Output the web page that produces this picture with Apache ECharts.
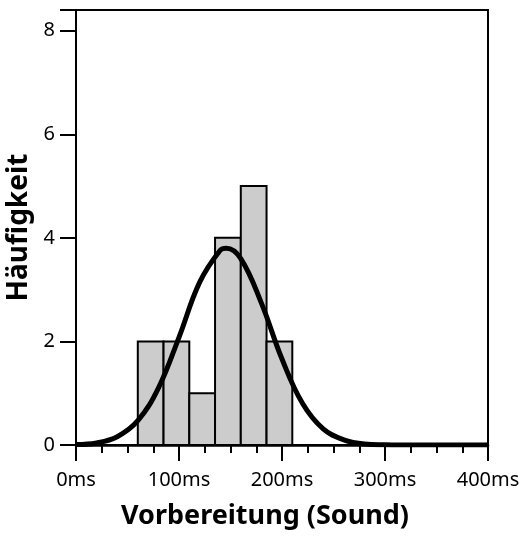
<!DOCTYPE html>
<html>
<head>
<meta charset="utf-8">
<script src="https://cdn.jsdelivr.net/npm/echarts@6/dist/echarts.min.js"></script>
<style>html,body{margin:0;padding:0;background:#fff}#c{width:522px;height:537px}</style>
</head>
<body>
<div id="c"></div>
<script>
// Histogram bins (ms) and counts
var binStart = [60, 85, 110, 135, 160, 185];
var binEnd   = [85, 110, 135, 160, 185, 210];
var counts   = [2, 2, 1, 4, 5, 2];
// Fitted normal curve
var curveX = [0, 20, 40, 60, 80, 100, 120, 140, 146, 160, 180, 200, 220, 240, 260, 280, 300, 320, 350, 400];
var curveY = [0.01, 0.04, 0.16, 0.47, 1.1, 2.08, 3.14, 3.76, 3.8, 3.6, 2.74, 1.66, 0.8, 0.31, 0.1, 0.02, 0.005, 0.001, 0, 0];
var xTicks = [0, 100, 200, 300, 400];
var yTicks = [0, 2, 4, 6, 8];

var chart = echarts.init(document.getElementById('c'), null, {renderer: 'canvas'});
var font = 'Noto Sans';
var option = {
  animation: false,
  grid: {left: 76, right: 34, top: 10, bottom: 92, outerBoundsMode: 'none', containLabel: false,
    show: true, borderColor: '#000', borderWidth: 2, backgroundColor: 'transparent'},
  xAxis: {
    type: 'value', min: xTicks[0], max: xTicks[xTicks.length - 1], interval: 100,
    name: 'Vorbereitung (Sound)', nameLocation: 'middle', nameGap: 58,
    nameTextStyle: {fontFamily: font, fontWeight: 'bold', fontSize: 27, color: '#000', padding: [0, 34, 0, 0]},
    axisLine: {show: true, lineStyle: {color: '#000', width: 2.5}},
    axisTick: {show: true, length: 16, lineStyle: {color: '#000', width: 2}},
    minorTick: {show: true, splitNumber: 4, length: 8, lineStyle: {color: '#000', width: 2}},
    splitLine: {show: false},
    axisLabel: {fontFamily: font, fontSize: 20, color: '#000', margin: 25, formatter: function (v) { return v + 'ms'; }}
  },
  yAxis: {
    type: 'value', min: 0, max: 8.4, interval: 2,
    name: 'Häufigkeit', nameLocation: 'middle', nameGap: 39,
    nameTextStyle: {fontFamily: font, fontWeight: 'bold', fontSize: 28, color: '#000'},
    axisLine: {show: true, lineStyle: {color: '#000', width: 2}},
    axisTick: {show: true, length: 16, lineStyle: {color: '#000', width: 2}},
    splitLine: {show: false},
    axisLabel: {fontFamily: font, fontSize: 20, color: '#000', margin: 21,
      formatter: function (v) { return yTicks.indexOf(v) >= 0 ? String(v) : ''; }}
  },
  series: [
    {
      type: 'custom',
      data: counts.map(function (c, i) { return [binStart[i], binEnd[i], c]; }),
      encode: {x: [0, 1], y: 2},
      renderItem: function (params, api) {
        var p0 = api.coord([api.value(0), api.value(2)]);
        var p1 = api.coord([api.value(1), 0]);
        return {
          type: 'rect',
          shape: {x: p0[0], y: p0[1], width: p1[0] - p0[0], height: p1[1] - p0[1]},
          style: {fill: '#cccccc', stroke: '#000', lineWidth: 2}
        };
      },
      z: 2
    },
    {
      type: 'line',
      data: curveX.map(function (x, i) { return [x, curveY[i]]; }),
      smooth: 0.4,
      showSymbol: false,
      lineStyle: {color: '#000', width: 5},
      z: 3
    }
  ]
};
chart.setOption(option);
</script>
</body>
</html>
